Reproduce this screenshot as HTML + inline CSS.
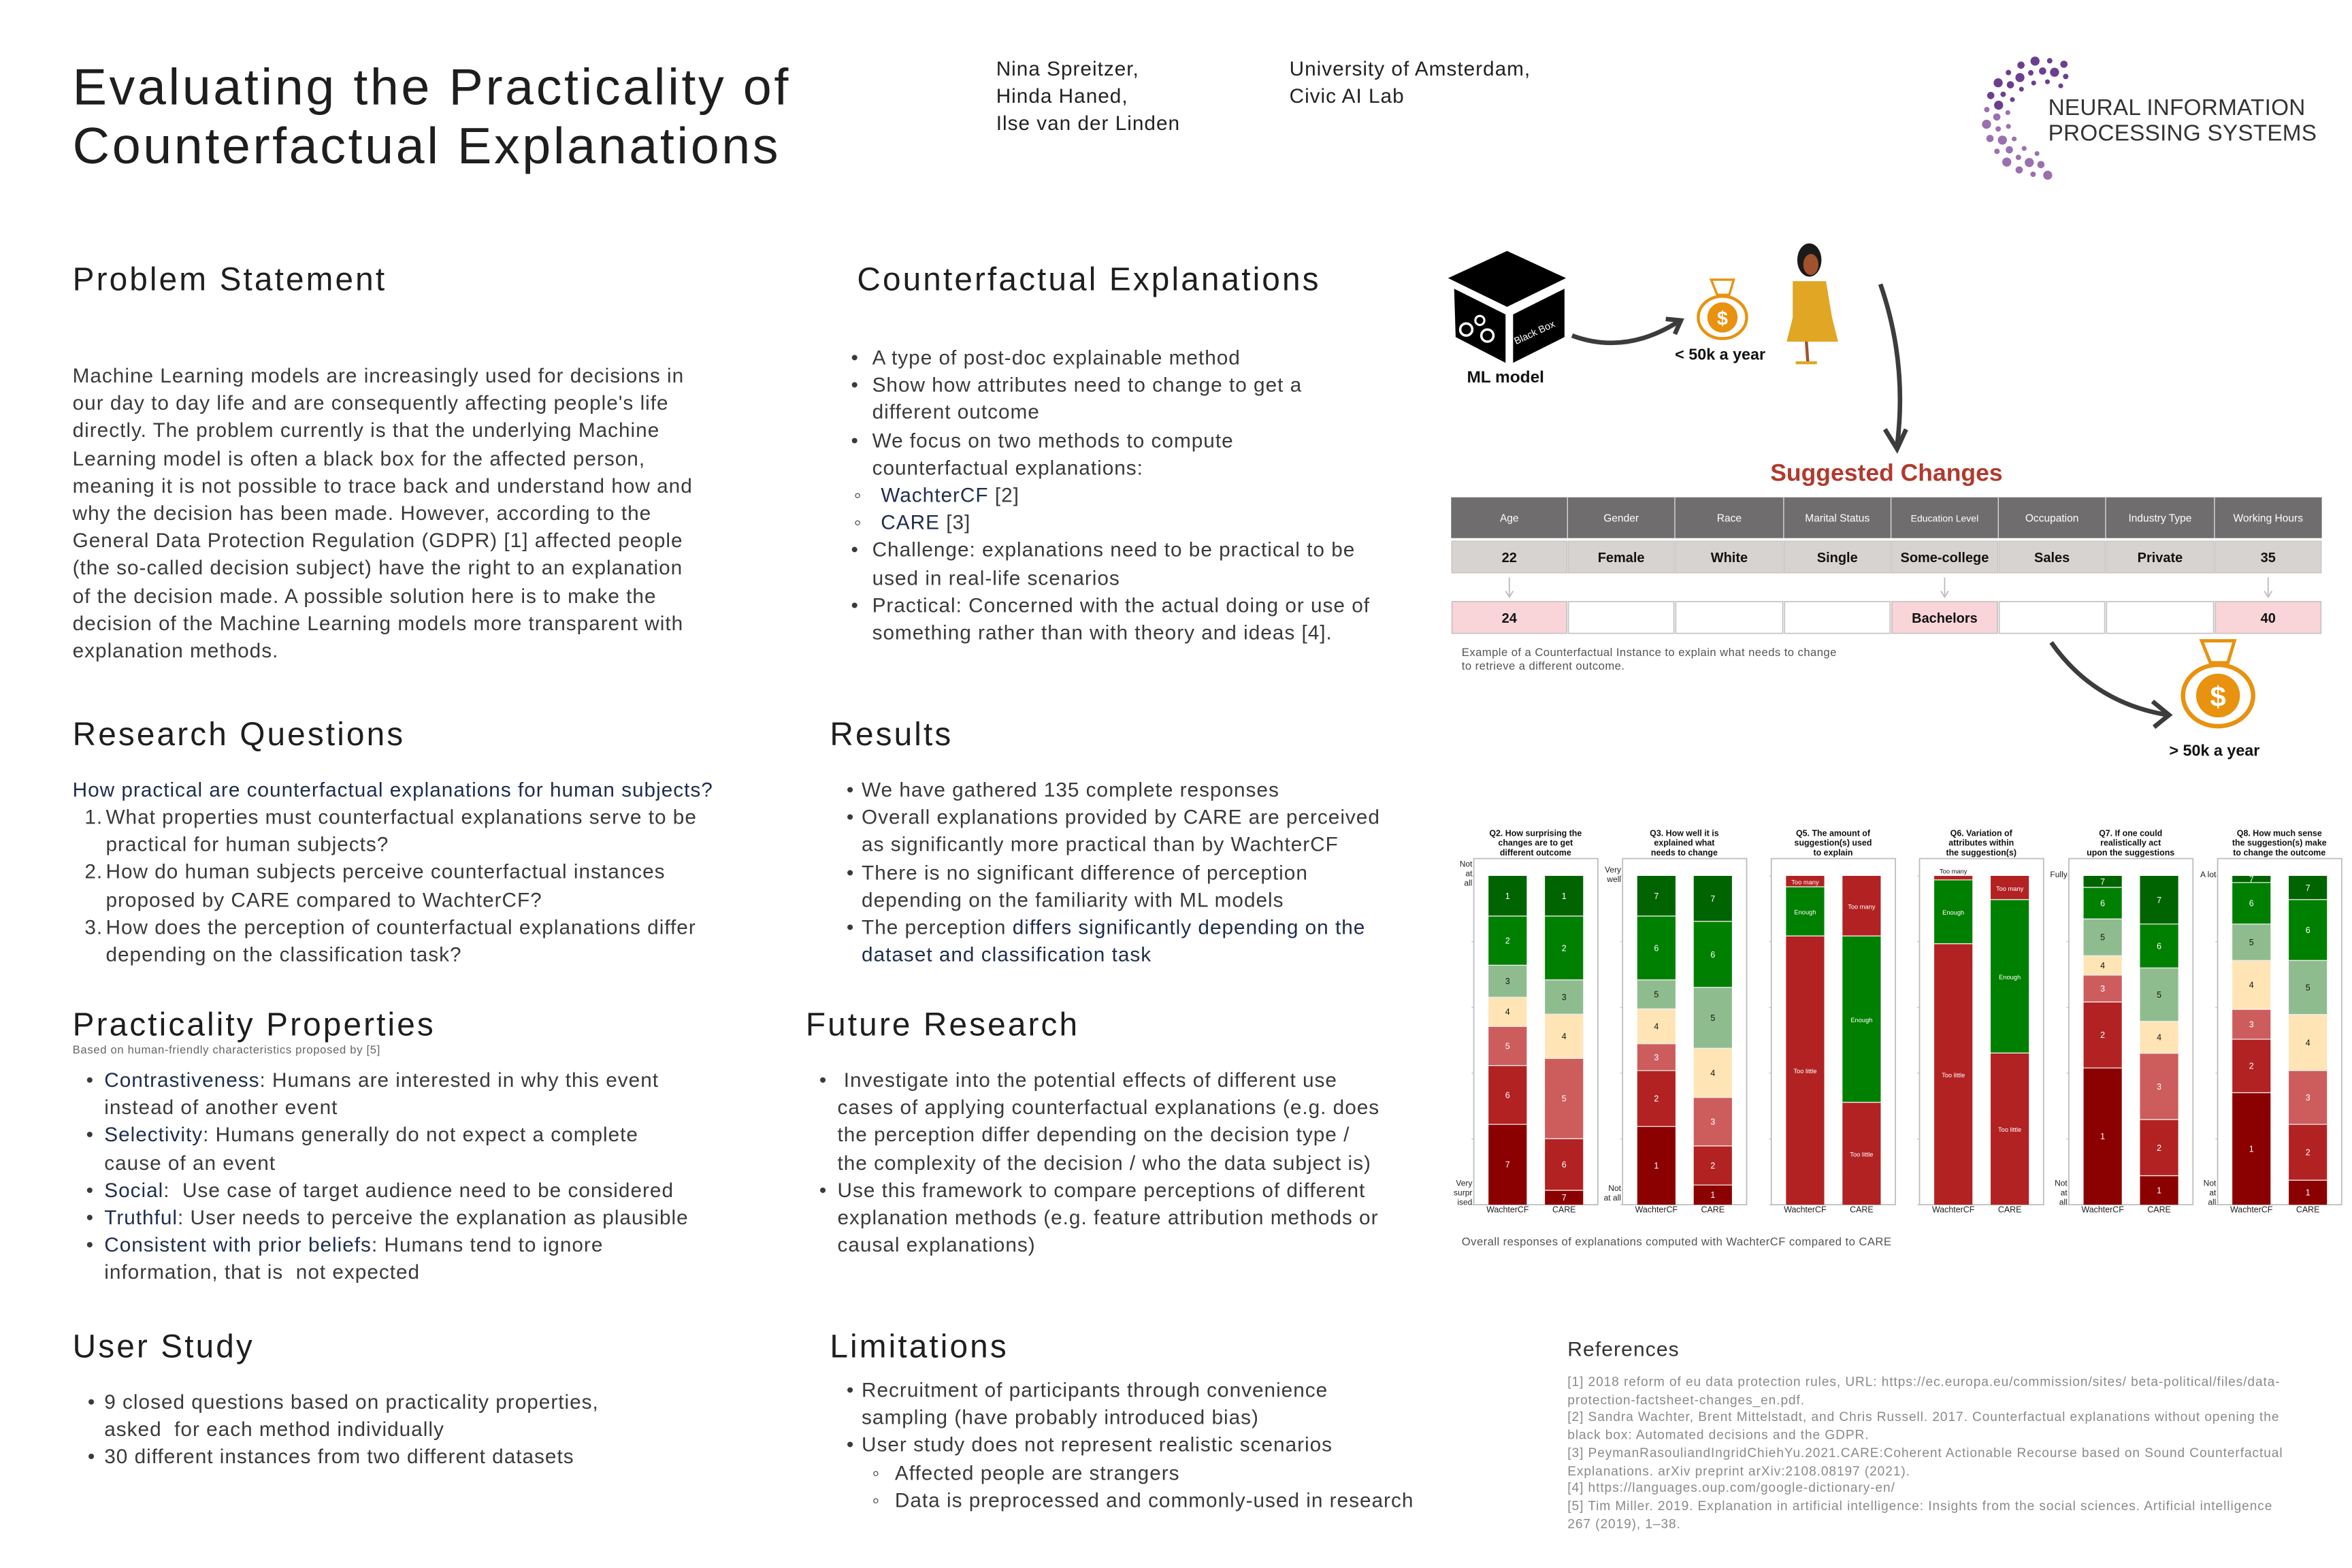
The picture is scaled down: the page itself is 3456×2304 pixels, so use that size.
<!DOCTYPE html>
<html><head><meta charset="utf-8">
<style>
html,body{margin:0;padding:0;background:#fff;}
body{width:3456px;height:2304px;overflow:hidden;}
#pg{position:absolute;left:0;top:0;width:1556px;height:1037px;transform:scale(2.2211);transform-origin:0 0;font-family:"Liberation Sans",sans-serif;color:#3a3a3a;}
.a{position:absolute;white-space:nowrap;}
.t{font-size:13.4px;line-height:18.2px;letter-spacing:0.45px;}
h1{position:absolute;margin:0;font-weight:normal;font-size:34px;line-height:39px;color:#1e1e1e;left:48px;top:39px;letter-spacing:1.6px;}
.h{position:absolute;font-size:21.5px;color:#1e1e1e;white-space:nowrap;line-height:24px;letter-spacing:1.4px;}
.d{color:#1f2d4d;}
.ref{font-size:8.6px;line-height:11.7px;color:#8a8a8a;letter-spacing:0.42px;}
</style></head><body>
<div id="pg">
<h1>Evaluating the Practicality of<br>Counterfactual Explanations</h1>
<div class="a t" style="left:659px;top:37px;color:#222">Nina Spreitzer,<br>Hinda Haned,<br>Ilse van der Linden</div>
<div class="a t" style="left:853px;top:37px;color:#222">University of Amsterdam,<br>Civic AI Lab</div>
<div class="a" style="left:1355px;top:63px;font-size:15px;line-height:17px;color:#333;letter-spacing:0.1px">NEURAL INFORMATION<br>PROCESSING SYSTEMS</div>
<svg class="a" style="left:0;top:0" width="1556" height="1037" id="logo"></svg>

<div class="h" style="left:48px;top:173px">Problem Statement</div>
<div class="a t" style="left:48px;top:240px">Machine Learning models are increasingly used for decisions in<br>our day to day life and are consequently affecting people's life<br>directly. The problem currently is that the underlying Machine<br>Learning model is often a black box for the affected person,<br>meaning it is not possible to trace back and understand how and<br>why the decision has been made. However, according to the<br>General Data Protection Regulation (GDPR) [1] affected people<br>(the so-called decision subject) have the right to an explanation<br>of the decision made. A possible solution here is to make the<br>decision of the Machine Learning models more transparent with<br>explanation methods.</div>

<div class="h" style="left:567px;top:173px">Counterfactual Explanations</div>
<div class="a t" style="left:563px;top:228px">•<br>•<br><br>•<br><br><br><br>•<br><br>•</div>
<div class="a t" style="left:577px;top:228px">A type of post-doc explainable method<br>Show how attributes need to change to get a<br>different outcome<br>We focus on two methods to compute<br>counterfactual explanations:<br><span style="margin-left:-12px">◦</span>&nbsp;&nbsp; <span class="d">WachterCF</span> [2]<br><span style="margin-left:-12px">◦</span>&nbsp;&nbsp; <span class="d">CARE</span> [3]<br>Challenge: explanations need to be practical to be<br>used in real-life scenarios<br>Practical: Concerned with the actual doing or use of<br>something rather than with theory and ideas [4].</div>

<div class="h" style="left:48px;top:474px">Research Questions</div>
<div class="a t" style="left:48px;top:514px"><span class="d">How practical are counterfactual explanations for human subjects?</span></div>
<div class="a t" style="left:56px;top:532px">1.<br><br>2.<br><br>3.</div>
<div class="a t" style="left:70px;top:532px">What properties must counterfactual explanations serve to be<br>practical for human subjects?<br>How do human subjects perceive counterfactual instances<br>proposed by CARE compared to WachterCF?<br>How does the perception of counterfactual explanations differ<br>depending on the classification task?</div>

<div class="h" style="left:549px;top:474px">Results</div>
<div class="a t" style="left:560px;top:514px">•<br>•<br><br>•<br><br>•</div>
<div class="a t" style="left:570px;top:514px">We have gathered 135 complete responses<br>Overall explanations provided by CARE are perceived<br>as significantly more practical than by WachterCF<br>There is no significant difference of perception<br>depending on the familiarity with ML models<br>The perception <span class="d">differs significantly depending on the</span><br><span class="d">dataset and classification task</span></div>

<div class="h" style="left:48px;top:666px">Practicality Properties</div>
<div class="a" style="left:48px;top:690px;font-size:7.5px;color:#666;letter-spacing:0.3px">Based on human-friendly characteristics proposed by [5]</div>
<div class="a t" style="left:57px;top:706px">•<br><br>•<br><br>•<br>•<br>•</div>
<div class="a t" style="left:69px;top:706px"><span class="d">Contrastiveness</span>: Humans are interested in why this event<br>instead of another event<br><span class="d">Selectivity</span>: Humans generally do not expect a complete<br>cause of an event<br><span class="d">Social</span>:&nbsp; Use case of target audience need to be considered<br><span class="d">Truthful</span>: User needs to perceive the explanation as plausible<br><span class="d">Consistent with prior beliefs</span>: Humans tend to ignore<br>information, that is&nbsp; not expected</div>

<div class="h" style="left:533px;top:666px">Future Research</div>
<div class="a t" style="left:542px;top:706px">•<br><br><br><br>•</div>
<div class="a t" style="left:554px;top:706px">&nbsp;Investigate into the potential effects of different use<br>cases of applying counterfactual explanations (e.g. does<br>the perception differ depending on the decision type /<br>the complexity of the decision / who the data subject is)<br>Use this framework to compare perceptions of different<br>explanation methods (e.g. feature attribution methods or<br>causal explanations)</div>

<div class="h" style="left:48px;top:879px">User Study</div>
<div class="a t" style="left:58px;top:919px">•<br><br>•</div>
<div class="a t" style="left:69px;top:919px">9 closed questions based on practicality properties,<br>asked&nbsp; for each method individually<br>30 different instances from two different datasets</div>

<div class="h" style="left:549px;top:879px">Limitations</div>
<div class="a t" style="left:560px;top:911px">•<br><br>•<br><span style="margin-left:17px">◦</span><br><span style="margin-left:17px">◦</span></div>
<div class="a t" style="left:570px;top:911px">Recruitment of participants through convenience<br>sampling (have probably introduced bias)<br>User study does not represent realistic scenarios<br><span style="margin-left:22px">Affected people are strangers</span><br><span style="margin-left:22px">Data is preprocessed and commonly-used in research</span></div>

<div class="a" style="left:1037px;top:885px;font-size:13.5px;color:#333;letter-spacing:0.5px">References</div>
<div class="a ref" style="left:1037px;top:909px">[1] 2018 reform of eu data protection rules, URL: https://ec.europa.eu/commission/sites/ beta-political/files/data-<br>protection-factsheet-changes_en.pdf.<br>[2] Sandra Wachter, Brent Mittelstadt, and Chris Russell. 2017. Counterfactual explanations without opening the<br>black box: Automated decisions and the GDPR.<br>[3] PeymanRasouliandIngridChiehYu.2021.CARE:Coherent Actionable Recourse based on Sound Counterfactual<br>Explanations. arXiv preprint arXiv:2108.08197 (2021).<br>[4] https://languages.oup.com/google-dictionary-en/<br>[5] Tim Miller. 2019. Explanation in artificial intelligence: Insights from the social sciences. Artificial intelligence<br>267 (2019), 1–38.</div>

<svg class="a" style="left:0;top:0" width="1556" height="1037">
 <polygon points="958,184 997,166 1036,184 997,203" fill="#000"/>
 <polygon points="962,191 996,208 996,240 963,223" fill="#000"/>
 <polygon points="1001,208 1035,191 1035,223 1001,240" fill="#000"/>
 <circle cx="970" cy="218" r="4" fill="none" stroke="#fff" stroke-width="1.6"/>
 <circle cx="979" cy="212" r="3" fill="none" stroke="#fff" stroke-width="1.4"/>
 <circle cx="984" cy="222" r="4" fill="none" stroke="#fff" stroke-width="1.6"/>
 <text x="1003" y="228" font-size="6.5" fill="#fff" font-family="Liberation Sans" transform="rotate(-25 1003 228)">Black Box</text>
 <text x="996" y="253" font-size="11" font-weight="bold" fill="#111" text-anchor="middle" font-family="Liberation Sans">ML model</text>
 <path d="M1040,222 Q1075,235 1110,213" fill="none" stroke="#3c3c3c" stroke-width="3"/>
 <path d="M1102,211 L1112,212 L1108,221" fill="none" stroke="#3c3c3c" stroke-width="3"/>
 <g transform="translate(1122,183)">
  <path d="M10,2 L25,2 L22,12 L14,12 Z" fill="#fff" stroke="#e8920f" stroke-width="1.5"/>
  <ellipse cx="17.5" cy="27" rx="16" ry="14" fill="#fff" stroke="#e8920f" stroke-width="2"/>
  <circle cx="17.5" cy="27" r="10" fill="#e8920f"/>
  <text x="17.5" y="32" font-size="13" fill="#fff" text-anchor="middle" font-family="Liberation Sans" font-weight="bold">$</text>
 </g>
 <text x="1138" y="238" font-size="10.5" font-weight="bold" fill="#111" text-anchor="middle" font-family="Liberation Sans">&lt; 50k a year</text>
 <ellipse cx="1197" cy="172" rx="8" ry="11" fill="#1a1a1a"/>
 <ellipse cx="1198" cy="175" rx="5" ry="7" fill="#a0522d"/>
 <path d="M1186,186 L1208,186 L1212,210 L1216,226 L1182,226 L1186,210 Z" fill="#e0a624"/>
 <line x1="1195" y1="226" x2="1196" y2="240" stroke="#a0522d" stroke-width="2"/>
 <path d="M1188,240 L1202,240" stroke="#e0a624" stroke-width="2"/>
 <path d="M1244,188 Q1262,240 1255,295" fill="none" stroke="#3c3c3c" stroke-width="3"/>
 <path d="M1247,284 L1255,297 L1261,284" fill="none" stroke="#3c3c3c" stroke-width="3"/>
 <path d="M1357,425 Q1385,465 1434,473" fill="none" stroke="#3c3c3c" stroke-width="3"/>
 <path d="M1424,464 L1435,473 L1425,481" fill="none" stroke="#3c3c3c" stroke-width="3"/>
 <g transform="translate(1442,421) scale(1.45)">
  <path d="M10,2 L25,2 L22,12 L14,12 Z" fill="#fff" stroke="#e8920f" stroke-width="1.5"/>
  <ellipse cx="17.5" cy="27" rx="16" ry="14" fill="#fff" stroke="#e8920f" stroke-width="2"/>
  <circle cx="17.5" cy="27" r="10" fill="#e8920f"/>
  <text x="17.5" y="32" font-size="13" fill="#fff" text-anchor="middle" font-family="Liberation Sans" font-weight="bold">$</text>
 </g>
 <text x="1465" y="500" font-size="10.5" font-weight="bold" fill="#111" text-anchor="middle" font-family="Liberation Sans">&gt; 50k a year</text>
 <text x="1248" y="318" font-size="16" font-weight="bold" fill="#b03a2e" text-anchor="middle" font-family="Liberation Sans">Suggested Changes</text>
 <g font-family="Liberation Sans" text-anchor="middle">
  <rect x="960" y="329" width="576" height="27" fill="#6f6d6d"/>
  <g id="tbl"></g>
 </g>
 <text x="967" y="434" font-size="7.5" fill="#555" font-family="Liberation Sans" letter-spacing="0.2">Example of a Counterfactual Instance to explain what needs to change</text>
 <text x="967" y="443" font-size="7.5" fill="#555" font-family="Liberation Sans" letter-spacing="0.2">to retrieve a different outcome.</text>
 <text x="967" y="824" font-size="7.5" fill="#555" font-family="Liberation Sans" letter-spacing="0.2">Overall responses of explanations computed with WachterCF compared to CARE</text>
 <g id="chart" font-family="Liberation Sans"></g>
</svg>
</div>
<script>
var NS='http://www.w3.org/2000/svg';
function el(p,t,a,txt){var e=document.createElementNS(NS,t);for(var k in a)e.setAttribute(k,a[k]);if(txt!=null)e.textContent=txt;p.appendChild(e);return e;}
(function(){var s=document.getElementById('logo');var cx=1352,cy=78;
for(var i=0;i<30;i++){var th=(-62-i*(212/29))*Math.PI/180;
 for(var j=0;j<2;j++){var r=j?38:31;if((i+j)%2)continue;
  var x=cx+r*Math.cos(th),y=cy+r*Math.sin(th);
  var col=i<15?'#6a3f8f':'#9a70b0';
  el(s,'circle',{cx:x.toFixed(1),cy:y.toFixed(1),r:(1.8+((i*7)%3)*0.6).toFixed(1),fill:col});}
 var r2=24,x2=cx+r2*Math.cos(th),y2=cy+r2*Math.sin(th);
 if(i%3==0)el(s,'circle',{cx:x2.toFixed(1),cy:y2.toFixed(1),r:1.6,fill:i<15?'#6a3f8f':'#9a70b0'});
}})();
(function(){var g=document.getElementById('tbl');
var xs=[960,1037,1108,1180,1251,1322,1393,1465,1536];
var hd=['Age','Gender','Race','Marital Status','Education Level','Occupation','Industry Type','Working Hours'];
var r1=['22','Female','White','Single','Some-college','Sales','Private','35'];
var r2=['24','','','','Bachelors','','','40'];
for(var i=0;i<8;i++){var x=xs[i],w=xs[i+1]-xs[i],c=x+w/2;
 if(i>0)el(g,'line',{x1:x,y1:329,x2:x,y2:356,stroke:'#ddd','stroke-width':0.6});
 el(g,'text',{x:c,y:345,'font-size':i==4?6.3:7,fill:'#fff'},hd[i]);
 el(g,'rect',{x:x+0.4,y:358,width:w-0.8,height:21,fill:'#d7d3d1',stroke:'#c8c4c2','stroke-width':0.6});
 el(g,'text',{x:c,y:372,'font-size':9,'font-weight':'bold',fill:'#111'},r1[i]);
 el(g,'rect',{x:x+0.6,y:398,width:w-1.2,height:21,fill:r2[i]?'#f9d5da':'#fff',stroke:'#c8c4c2','stroke-width':0.8});
 if(r2[i]){el(g,'text',{x:c,y:412,'font-size':9,'font-weight':'bold',fill:'#111'},r2[i]);
  el(g,'line',{x1:c,y1:382,x2:c,y2:394,stroke:'#bbb','stroke-width':0.8});
  el(g,'path',{d:'M'+(c-2.5)+',391 L'+c+',395 L'+(c+2.5)+',391',fill:'none',stroke:'#bbb','stroke-width':0.8});}
}})();
(function(){var g=document.getElementById('chart');
var X=function(z){return 957.5+0.389*z},Y=function(z){return 568+(z-140)*0.176};
var C={DG:'#006400',G:'#008000',SG:'#8fbc8f',M:'#ffe4b5',IR:'#cd5c5c',FB:'#b22222',DR:'#8b0000'};
var asc=[C.DG,C.G,C.SG,C.M,C.IR,C.FB,C.DR];
var P=[
 {t:['Q2. How surprising the','changes are to get','different outcome'],top:['Not','at','all'],bot:['Very','surpr','ised'],
  W:[[1,205,356],[2,356,541],[3,541,661],[4,661,771],[5,771,918],[6,918,1139],[7,1139,1441]],
  Cr:[[1,205,356],[2,356,596],[3,596,725],[4,725,891],[5,891,1193],[6,1193,1387],[7,1387,1441]],q2:1},
 {t:['Q3. How well it is','explained what','needs to change'],top:['Very','well'],bot:['Not','at all'],
  W:[[7,205,356],[6,356,596],[5,596,705],[4,705,836],[3,836,937],[2,937,1147],[1,1147,1441]],
  Cr:[[7,205,376],[6,376,624],[5,624,853],[4,853,1038],[3,1038,1220],[2,1220,1367],[1,1367,1441]]},
 {t:['Q5. The amount of','suggestion(s) used','to explain'],
  W:[['Too many',205,246],['Enough',246,431],['Too little',431,1441]],
  Cr:[['Too many',205,431],['Enough',431,1056],['Too little',1056,1441]]},
 {t:['Q6. Variation of','attributes within','the suggestion(s)'],
  W:[['Too many',205,220],['Enough',220,460],['Too little',460,1441]],
  Cr:[['Too many',205,294],['Enough',294,871],['Too little',871,1441]]},
 {t:['Q7. If one could','realistically act','upon the suggestions'],top:['Fully'],bot:['Not','at','all'],
  W:[[7,205,248],[6,248,367],[5,367,505],[4,505,578],[3,578,679],[2,679,927],[1,927,1441]],
  Cr:[[7,205,386],[6,386,551],[5,551,752],[4,752,872],[3,872,1121],[2,1121,1332],[1,1332,1441]]},
 {t:['Q8. How much sense','the suggestion(s) make','to change the outcome'],top:['A lot'],bot:['Not','at','all'],
  W:[[7,205,230],[6,230,386],[5,386,523],[4,523,707],[3,707,819],[2,819,1020],[1,1020,1441]],
  Cr:[[7,205,294],[6,294,523],[5,523,726],[4,726,937],[3,937,1139],[2,1139,1349],[1,1349,1441]]}
];
var lefts=[45,298,551,803,1057,1310];
P.forEach(function(p,pi){var L=lefts[pi];
 el(g,'rect',{x:X(L),y:Y(140),width:X(L+211)-X(L),height:Y(1441)-Y(140),fill:'none',stroke:'#bdbdbd','stroke-width':0.8});
 for(var k=0;k<6;k++){var yy=Y(205+k*247.2);el(g,'line',{x1:X(L)-1.5,y1:yy,x2:X(L),y2:yy,stroke:'#bbb','stroke-width':0.5});}
 p.t.forEach(function(s,i){el(g,'text',{x:X(L+105),y:[553,559.5,566][i],'font-size':5.6,'font-weight':'bold','text-anchor':'middle',fill:'#111'},s);});
 [['W',25,'WachterCF'],['Cr',121,'CARE']].forEach(function(b){var bx=X(L+b[1]),bw=X(L+b[1]+65)-bx;
  p[b[0]].forEach(function(sg){var lab=sg[0],y0=Y(sg[1]),y1=Y(sg[2]),col;
   if(typeof lab=='string')col=lab=='Enough'?C.G:C.FB;
   else col=p.q2?asc[lab-1]:asc[7-lab];
   el(g,'rect',{x:bx,y:y0,width:bw,height:y1-y0,fill:col});
   if(sg[1]>205)el(g,'line',{x1:bx,y1:y0,x2:bx+bw,y2:y0,stroke:'#eee','stroke-width':0.6});
   var dark=(col==C.SG||col==C.M);var h=y1-y0;
   var ty=(h<4)?y0-1.5:(y0+y1)/2+2;var tc=(h<4)?'#111':(dark?'#111':'#fff');
   el(g,'text',{x:bx+bw/2,y:ty,'font-size':typeof lab=='string'?4.2:5.6,'text-anchor':'middle',fill:tc},lab);
  });
  el(g,'text',{x:bx+bw/2,y:Y(1470),'font-size':5.6,'text-anchor':'middle',fill:'#222'},b[2]);
 });
 if(p.top)p.top.forEach(function(s,i){el(g,'text',{x:X(L)-1,y:Y(p.top.length==3?170:(p.top.length==2?192:210))+i*6.3,'font-size':5.4,'text-anchor':'end',fill:'#222'},s);});
 if(p.bot)p.bot.forEach(function(s,i){el(g,'text',{x:X(L)-1,y:Y(p.bot.length==3?1370:1390)+i*6.3,'font-size':5.4,'text-anchor':'end',fill:'#222'},s);});
});
})();
</script>
</body></html>
